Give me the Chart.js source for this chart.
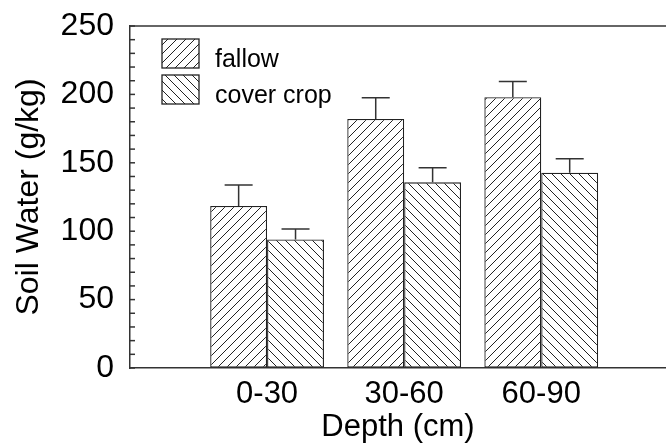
<!DOCTYPE html>
<html>
<head>
<meta charset="utf-8">
<script src="https://cdn.jsdelivr.net/npm/chart.js@4.4.1/dist/chart.umd.min.js"></script>
<style>
    html, body { margin: 0; padding: 0; background: #fff; }
    #wrap { width: 666px; height: 443px; }
</style>
</head>
<body>
<div id="wrap"><canvas id="soilChart"></canvas></div>
<script>
const categories = ['0-30', '30-60', '60-90'];
const seriesNames = ['fallow', 'cover crop'];
const fallowMean = [118.5, 182, 198];
const fallowErr = [15.3, 15.6, 11.4];
const coverMean = [94, 135.7, 142.8];
const coverErr = [7.6, 10.7, 10.2];
const yTickLabels = [0, 50, 100, 150, 200, 250];

const FONT = '"Liberation Sans", Arial, Helvetica, sans-serif';
const INK = '#222';

// hatch fill, dir 1 = "/" and -1 = "\"
function makeHatch(dir) {
    const s = 9;
    const c = document.createElement('canvas');
    c.width = s;
    c.height = s;
    const g = c.getContext('2d');
    g.fillStyle = '#fff';
    g.fillRect(0, 0, s, s);
    g.strokeStyle = INK;
    g.lineWidth = 1;
    g.beginPath();
    if (dir > 0) {
        g.moveTo(-1, s + 1); g.lineTo(s + 1, -1);
        g.moveTo(-1, 1); g.lineTo(1, -1);
        g.moveTo(s - 1, s + 1); g.lineTo(s + 1, s - 1);
    } else {
        g.moveTo(-1, -1); g.lineTo(s + 1, s + 1);
        g.moveTo(s - 1, -1); g.lineTo(s + 1, 1);
        g.moveTo(-1, s - 1); g.lineTo(1, s + 1);
    }
    g.stroke();
    return document.getElementById('soilChart').getContext('2d').createPattern(c, 'repeat');
}

function toPoints(values) {
    return values.map((v, i) => ({ x: i + 1, y: v }));
}

const errors = [fallowErr, coverErr];

// upward error bars, inward y ticks, top frame line and the legend inside the plot
const extras = {
    id: 'extras',
    afterDatasetsDraw(chart) {
        const ctx = chart.ctx;
        const y = chart.scales.y;
        const area = chart.chartArea;
        ctx.save();
        ctx.strokeStyle = '#333';
        ctx.lineWidth = 1.5;

        chart.data.datasets.forEach((ds, di) => {
            const meta = chart.getDatasetMeta(di);
            meta.data.forEach((bar, i) => {
                const top = y.getPixelForValue(ds.data[i].y + errors[di][i]);
                ctx.beginPath();
                ctx.moveTo(bar.x, bar.y);
                ctx.lineTo(bar.x, top);
                ctx.moveTo(bar.x - 14, top);
                ctx.lineTo(bar.x + 14, top);
                ctx.stroke();
            });
        });

        y.ticks.forEach(t => {
            const py = y.getPixelForValue(t.value);
            ctx.beginPath();
            ctx.moveTo(area.left, py);
            ctx.lineTo(area.left + 5, py);
            ctx.stroke();
        });

        ctx.beginPath();
        ctx.moveTo(area.left, area.top);
        ctx.lineTo(area.right, area.top);
        ctx.stroke();

        // legend
        ctx.font = '25px ' + FONT;
        ctx.textBaseline = 'alphabetic';
        chart.data.datasets.forEach((ds, di) => {
            const bx = area.left + 32;
            const by = area.top + 13 + di * 36;
            ctx.fillStyle = ds.backgroundColor;
            ctx.fillRect(bx, by, 37, 29);
            ctx.strokeStyle = INK;
            ctx.lineWidth = 1.3;
            ctx.strokeRect(bx, by, 37, 29);
            ctx.fillStyle = '#000';
            ctx.fillText(ds.label, bx + 53, by + 28);
        });
        ctx.restore();
    }
};

new Chart(document.getElementById('soilChart'), {
    type: 'bar',
    data: {
        datasets: [
            {
                label: seriesNames[0],
                data: toPoints(fallowMean),
                backgroundColor: makeHatch(1),
                borderColor: INK,
                borderWidth: 1.3,
                borderSkipped: false
            },
            {
                label: seriesNames[1],
                data: toPoints(coverMean),
                backgroundColor: makeHatch(-1),
                borderColor: INK,
                borderWidth: 1.3,
                borderSkipped: false
            }
        ]
    },
    options: {
        responsive: true,
        maintainAspectRatio: false,
        animation: false,
        categoryPercentage: 0.83,
        barPercentage: 1.0,
        layout: { padding: { top: 26, left: 0, right: 0, bottom: 0 } },
        plugins: {
            tooltip: { enabled: false },
            legend: { display: false }
        },
        scales: {
            x: {
                type: 'linear',
                min: 0,
                max: 3.91,
                offset: false,
                // keep only whole-number ticks so the bar width comes from the category spacing
                afterBuildTicks(scale) {
                    scale.ticks = scale.ticks.filter(t => Number.isInteger(t.value));
                },
                afterFit(scale) {
                    scale.height = 75;
                    scale.paddingLeft = 0;
                    scale.paddingRight = 0;
                },
                grid: { display: true, offset: false, drawOnChartArea: false, drawTicks: false },
                border: { display: true, color: '#333', width: 1.5 },
                ticks: {
                    stepSize: 1,
                    padding: 8,
                    color: '#000',
                    font: { family: FONT, size: 31 },
                    maxRotation: 0,
                    callback: v => categories[v - 1] || ''
                },
                title: {
                    display: true,
                    text: 'Depth (cm)',
                    color: '#000',
                    padding: 0,
                    font: { family: FONT, size: 31, lineHeight: 1.0 }
                }
            },
            y: {
                min: 0,
                max: 250,
                afterFit(scale) {
                    scale.width = 130;
                    scale.paddingTop = 0;
                    scale.paddingBottom = 0;
                },
                grid: { display: true, drawOnChartArea: false, drawTicks: false },
                border: { display: true, color: '#333', width: 1.5 },
                ticks: {
                    stepSize: 10,
                    autoSkip: false,
                    padding: 16,
                    color: '#000',
                    font: { family: FONT, size: 32 },
                    callback: v => yTickLabels.includes(v) ? v : ''
                },
                title: {
                    display: true,
                    text: 'Soil Water (g/kg)',
                    color: '#000',
                    padding: 10,
                    font: { family: FONT, size: 32 }
                }
            }
        }
    },
    plugins: [extras]
});
</script>
</body>
</html>
